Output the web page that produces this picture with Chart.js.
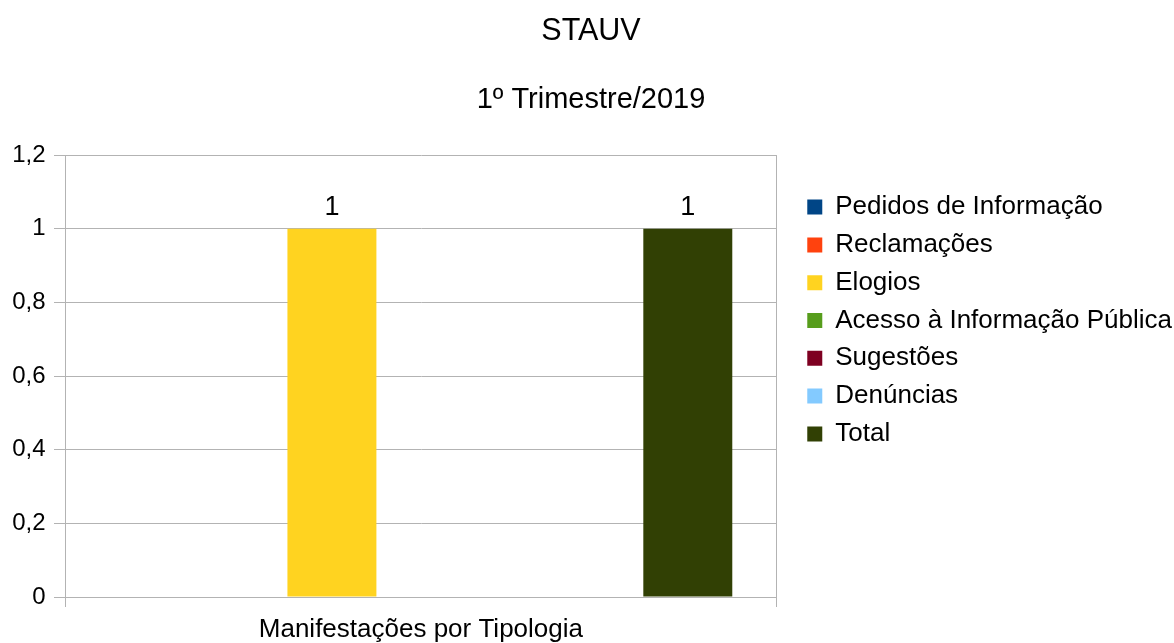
<!DOCTYPE html>
<html>
<head>
<meta charset="utf-8">
<script src="https://cdn.jsdelivr.net/npm/chart.js@4"></script>
<style>
  html, body { margin: 0; padding: 0; background: #ffffff; }
  #wrap { width: 1174px; height: 643px; }
</style>
</head>
<body>
<div id="wrap"><canvas id="c" width="1174" height="643"></canvas></div>
<script>
const categories = ['Manifestações por Tipologia'];
const seriesNames = ['Pedidos de Informação', 'Reclamações', 'Elogios', 'Acesso à Informação Pública', 'Sugestões', 'Denúncias', 'Total'];
const seriesValues = [[0], [0], [1], [0], [0], [0], [1]];
const seriesColors = ['#004586', '#ff420e', '#ffd320', '#579d1c', '#7e0021', '#83caff', '#314004'];
const yTickLabels = ['0', '0,2', '0,4', '0,6', '0,8', '1', '1,2'];
const titleText = 'STAUV';
const subtitleText = '1º Trimestre/2019';

const FONT = "'Liberation Sans', Arial, sans-serif";
const GRID = '#b3b3b3';

const valueLabels = {
  id: 'valueLabels',
  afterDatasetsDraw(chart) {
    const ctx = chart.ctx;
    ctx.save();
    ctx.font = '27px ' + FONT;
    ctx.fillStyle = '#000000';
    ctx.textAlign = 'center';
    ctx.textBaseline = 'middle';
    chart.data.datasets.forEach((ds, di) => {
      const meta = chart.getDatasetMeta(di);
      meta.data.forEach((bar, i) => {
        const v = ds.data[i];
        if (v > 0) {
          ctx.fillText(String(v).replace('.', ','), bar.x, bar.y - 21);
        }
      });
    });
    ctx.restore();
  }
};

new Chart(document.getElementById('c'), {
  type: 'bar',
  data: {
    labels: categories,
    datasets: seriesNames.map((name, i) => ({
      label: name,
      data: seriesValues[i],
      backgroundColor: seriesColors[i],
      borderWidth: 0,
      categoryPercentage: 0.875,
      barPercentage: 1.0
    }))
  },
  options: {
    responsive: false,
    animation: false,
    layout: { padding: { left: 0, right: -8, top: -12, bottom: -10 } },
    plugins: {
      title: {
        display: true,
        text: titleText,
        color: '#000000',
        font: { family: FONT, size: 30.5, weight: 'normal', lineHeight: 1.2 },
        padding: { top: 25.2, bottom: 33.2 }
      },
      subtitle: {
        display: true,
        text: subtitleText,
        color: '#000000',
        font: { family: FONT, size: 29, weight: 'normal', lineHeight: 1.2 },
        padding: { top: 0, bottom: 37.4 }
      },
      legend: {
        display: true,
        position: 'right',
        align: 'center',
        maxWidth: 420,
        labels: {
          color: '#000000',
          font: { family: FONT, size: 26 },
          boxWidth: 15,
          boxHeight: 15,
          padding: 11.8
        }
      },
      tooltip: { enabled: false }
    },
    scales: {
      x: {
        grid: { color: GRID, lineWidth: 1, tickLength: 10, offset: true },
        border: { color: GRID },
        ticks: {
          color: '#000000',
          font: { family: FONT, size: 26, lineHeight: 1.0 },
          padding: 10,
          maxRotation: 0
        }
      },
      y: {
        min: 0,
        max: 1.2,
        afterFit: s => { s.width = 65; },
        grid: { color: GRID, lineWidth: 1, tickLength: 11 },
        border: { color: GRID },
        ticks: {
          stepSize: 0.2,
          color: '#000000',
          font: { family: FONT, size: 24 },
          padding: 8.5,
          callback: (v, i) => yTickLabels[i]
        }
      },
      gap: {
        position: 'right',
        axis: 'y',
        type: 'linear',
        display: true,
        afterFit: s => { s.width = 18.7; },
        grid: { display: false, drawTicks: false },
        border: { display: false },
        ticks: { display: false }
      }
    }
  },
  plugins: [valueLabels]
});
</script>
</body>
</html>
